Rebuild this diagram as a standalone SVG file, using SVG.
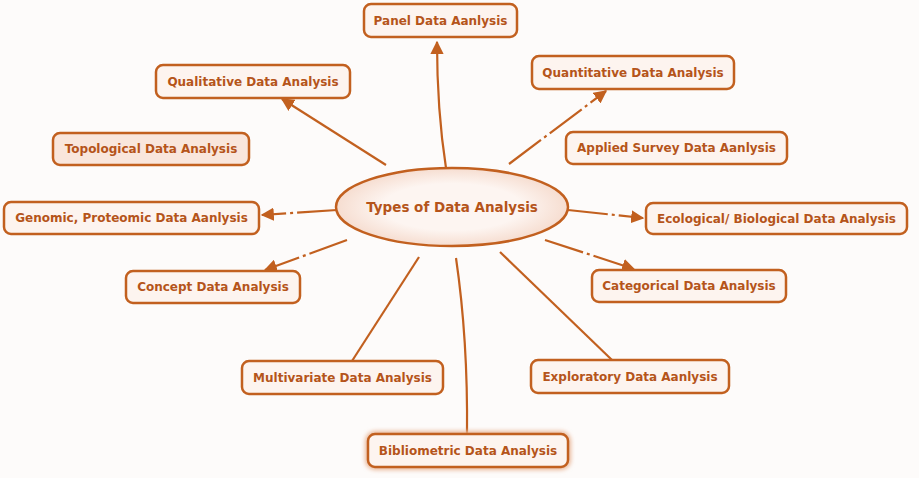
<svg xmlns="http://www.w3.org/2000/svg" width="919" height="478" viewBox="0 0 919 478">
<style>
.box{fill:#fdf4ef;stroke:#c2601f;stroke-width:2.5}
.pink{fill:#f9e6dc}
.t{font-family:"DejaVu Sans",sans-serif;font-weight:bold;font-size:12px;fill:#b5541a;text-anchor:middle;dominant-baseline:central}
.c{fill:none;stroke:#c2601f;stroke-width:2.2}
.dd{stroke-dasharray:40 4 3 4}
</style>
<defs>
<marker id="ah" viewBox="0 0 10 10" refX="9" refY="5" markerWidth="6" markerHeight="6" orient="auto" markerUnits="strokeWidth">
<path d="M0,0 L10,5 L0,10 z" fill="#c2601f"/>
</marker>
<radialGradient id="eg" cx="50%" cy="50%" r="50%">
<stop offset="0.6" stop-color="#fdf5f1"/>
<stop offset="1" stop-color="#f6ddd0"/>
</radialGradient>
<filter id="glow" x="-10%" y="-30%" width="120%" height="160%">
<feGaussianBlur stdDeviation="2"/>
</filter>
</defs>
<rect width="919" height="478" fill="#fdfbfa"/>
<g id="connectors">
<path class="c" d="M446,168 Q437,110 437,42" marker-end="url(#ah)"/>
<path class="c" d="M386,165 L282,99" marker-end="url(#ah)"/>
<path class="c dd" d="M509,164 L606,91" marker-end="url(#ah)"/>
<path class="c dd" d="M337,210 L262,215" marker-end="url(#ah)"/>
<path class="c dd" d="M568,210 L643,218" marker-end="url(#ah)"/>
<path class="c dd" d="M545,240 L634,269" marker-end="url(#ah)"/>
<path class="c dd" d="M347,240 L265,270" marker-end="url(#ah)"/>
<path class="c" d="M419,257 L352,361"/>
<path class="c" d="M456,258 Q468,340 467,434"/>
<path class="c" d="M500,252 L612,360"/>
</g>
<g id="center">
<ellipse cx="452" cy="207" rx="116" ry="39" fill="url(#eg)" stroke="#c2601f" stroke-width="2.5"/>
<text class="t" x="452" y="207" style="font-size:13.5px">Types of Data Analysis</text>
</g>
<g id="panel"><rect class="box" x="364" y="4" width="153" height="33" rx="7"/><text class="t" x="440.5" y="20.5">Panel Data Aanlysis</text></g>
<g id="qualitative"><rect class="box" x="156" y="65" width="194" height="33" rx="7"/><text class="t" x="253" y="81.5">Qualitative Data Analysis</text></g>
<g id="topological"><rect class="box pink" x="53" y="133" width="196" height="32" rx="7"/><text class="t" x="151" y="149">Topological Data Analysis</text></g>
<g id="genomic"><rect class="box" x="4" y="202" width="255" height="32" rx="7"/><text class="t" x="131.5" y="218">Genomic, Proteomic Data Aanlysis</text></g>
<g id="quantitative"><rect class="box" x="532" y="56" width="202" height="33" rx="7"/><text class="t" x="633" y="72.5">Quantitative Data Analysis</text></g>
<g id="applied"><rect class="box" x="566" y="132" width="221" height="32" rx="7"/><text class="t" x="676.5" y="148">Applied Survey Data Aanlysis</text></g>
<g id="ecological"><rect class="box" x="646" y="203" width="261" height="31" rx="7"/><text class="t" x="776.5" y="218.5">Ecological/ Biological Data Analysis</text></g>
<g id="categorical"><rect class="box" x="592" y="270" width="194" height="32" rx="7"/><text class="t" x="689" y="286">Categorical Data Analysis</text></g>
<g id="concept"><rect class="box" x="126" y="271" width="174" height="32" rx="7"/><text class="t" x="213" y="287">Concept Data Analysis</text></g>
<g id="multivariate"><rect class="box" x="242" y="361" width="201" height="33" rx="7"/><text class="t" x="342.5" y="377.5">Multivariate Data Analysis</text></g>
<g id="exploratory"><rect class="box" x="531" y="360" width="198" height="33" rx="7"/><text class="t" x="630" y="376.5">Exploratory Data Aanlysis</text></g>
<g id="bibliometric"><rect x="368" y="434" width="200" height="33" rx="7" fill="none" stroke="#e9b799" stroke-width="6" filter="url(#glow)"/><rect class="box" x="368" y="434" width="200" height="33" rx="7"/><text class="t" x="468" y="450.5">Bibliometric Data Analysis</text></g>
</svg>
